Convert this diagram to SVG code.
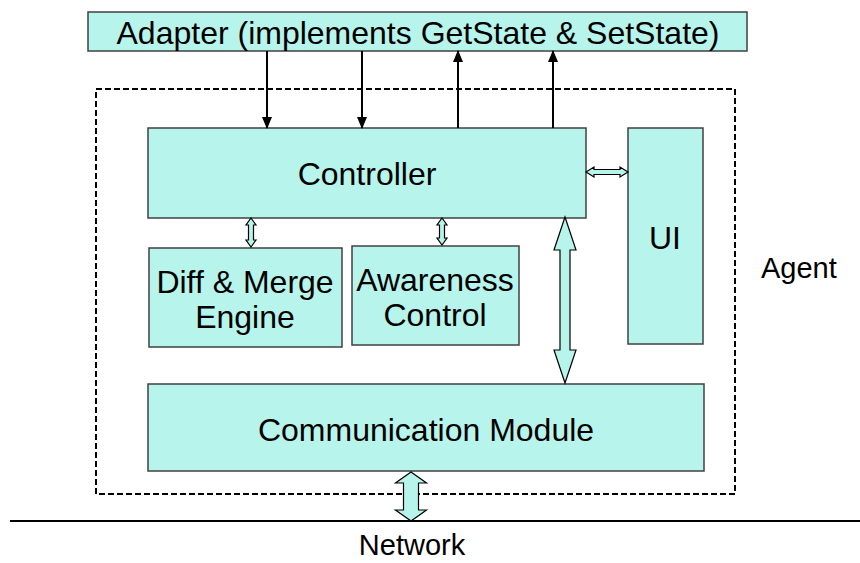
<svg xmlns="http://www.w3.org/2000/svg" width="860" height="563" viewBox="0 0 860 563">
<defs>
<style>
.box{fill:#B7F5EC;stroke:#404040;stroke-width:1.5}
.t{font-family:"Liberation Sans",Arial,sans-serif;font-size:32px;fill:#000;text-anchor:middle}
.link{stroke:#000;stroke-width:2;fill:none}
.dbl{fill:#B7F5EC;stroke:#000;stroke-width:1.2;stroke-linejoin:miter}
</style>
<marker id="ah" viewBox="0 0 12 10" refX="11" refY="5" markerWidth="12" markerHeight="10" markerUnits="userSpaceOnUse" orient="auto">
<path d="M0,0 L12,5 L0,10 Z" fill="#000"/>
</marker>
</defs>
<rect width="860" height="563" fill="#fff"/>
<g id="agent">
<rect x="96" y="89" width="639" height="405" fill="none" stroke="#000" stroke-width="2" stroke-dasharray="6,3"/>
<text class="t" x="761" y="278" style="text-anchor:start;font-size:29px">Agent</text>
</g>
<g id="adapter">
<rect class="box" x="88" y="12" width="659" height="39"/>
<text class="t" x="418" y="44">Adapter (implements GetState &amp; SetState)</text>
</g>
<g id="controller">
<rect class="box" x="148" y="128" width="438" height="90"/>
<text class="t" x="367" y="185">Controller</text>
</g>
<g id="ui">
<rect class="box" x="628" y="128" width="75" height="216"/>
<text class="t" x="665" y="249">UI</text>
</g>
<g id="diffmerge">
<rect class="box" x="149" y="248" width="193" height="99"/>
<text class="t" x="245" y="293">Diff &amp; Merge</text>
<text class="t" x="245" y="328">Engine</text>
</g>
<g id="awareness">
<rect class="box" x="352" y="246" width="167" height="99"/>
<text class="t" x="435" y="291">Awareness</text>
<text class="t" x="435" y="326">Control</text>
</g>
<g id="comm">
<rect class="box" x="148" y="384" width="556" height="87"/>
<text class="t" x="426" y="441">Communication Module</text>
</g>
<g id="network">
<line x1="10" y1="521" x2="860" y2="521" stroke="#000" stroke-width="2"/>
<text class="t" x="412" y="555" style="font-size:29px">Network</text>
</g>
<g id="connectors">
<line class="link" x1="267" y1="51" x2="267" y2="128" marker-end="url(#ah)"/>
<line class="link" x1="362" y1="51" x2="362" y2="128" marker-end="url(#ah)"/>
<line class="link" x1="458" y1="128" x2="458" y2="51" marker-end="url(#ah)"/>
<line class="link" x1="553" y1="128" x2="553" y2="51" marker-end="url(#ah)"/>
<polygon class="dbl" points="586,172 594,167 594,169.5 620,169.5 620,167 628,172 620,177 620,174.5 594,174.5 594,177"/>
<polygon class="dbl" points="251,218 256,225 253.5,225 253.5,240 256,240 251,247 246,240 248.5,240 248.5,225 246,225"/>
<polygon class="dbl" points="442,218 447,225 444.5,225 444.5,238 447,238 442,245 437,238 439.5,238 439.5,225 437,225"/>
<polygon class="dbl" points="565,217 576,250 570,250 570,350 576,350 565,383 554,350 560,350 560,250 554,250"/>
<polygon class="dbl" points="411,472 426.5,483 418.5,483 418.5,510 426.5,510 411,521 395.5,510 403.5,510 403.5,483 395.5,483"/>
</g>
</svg>
